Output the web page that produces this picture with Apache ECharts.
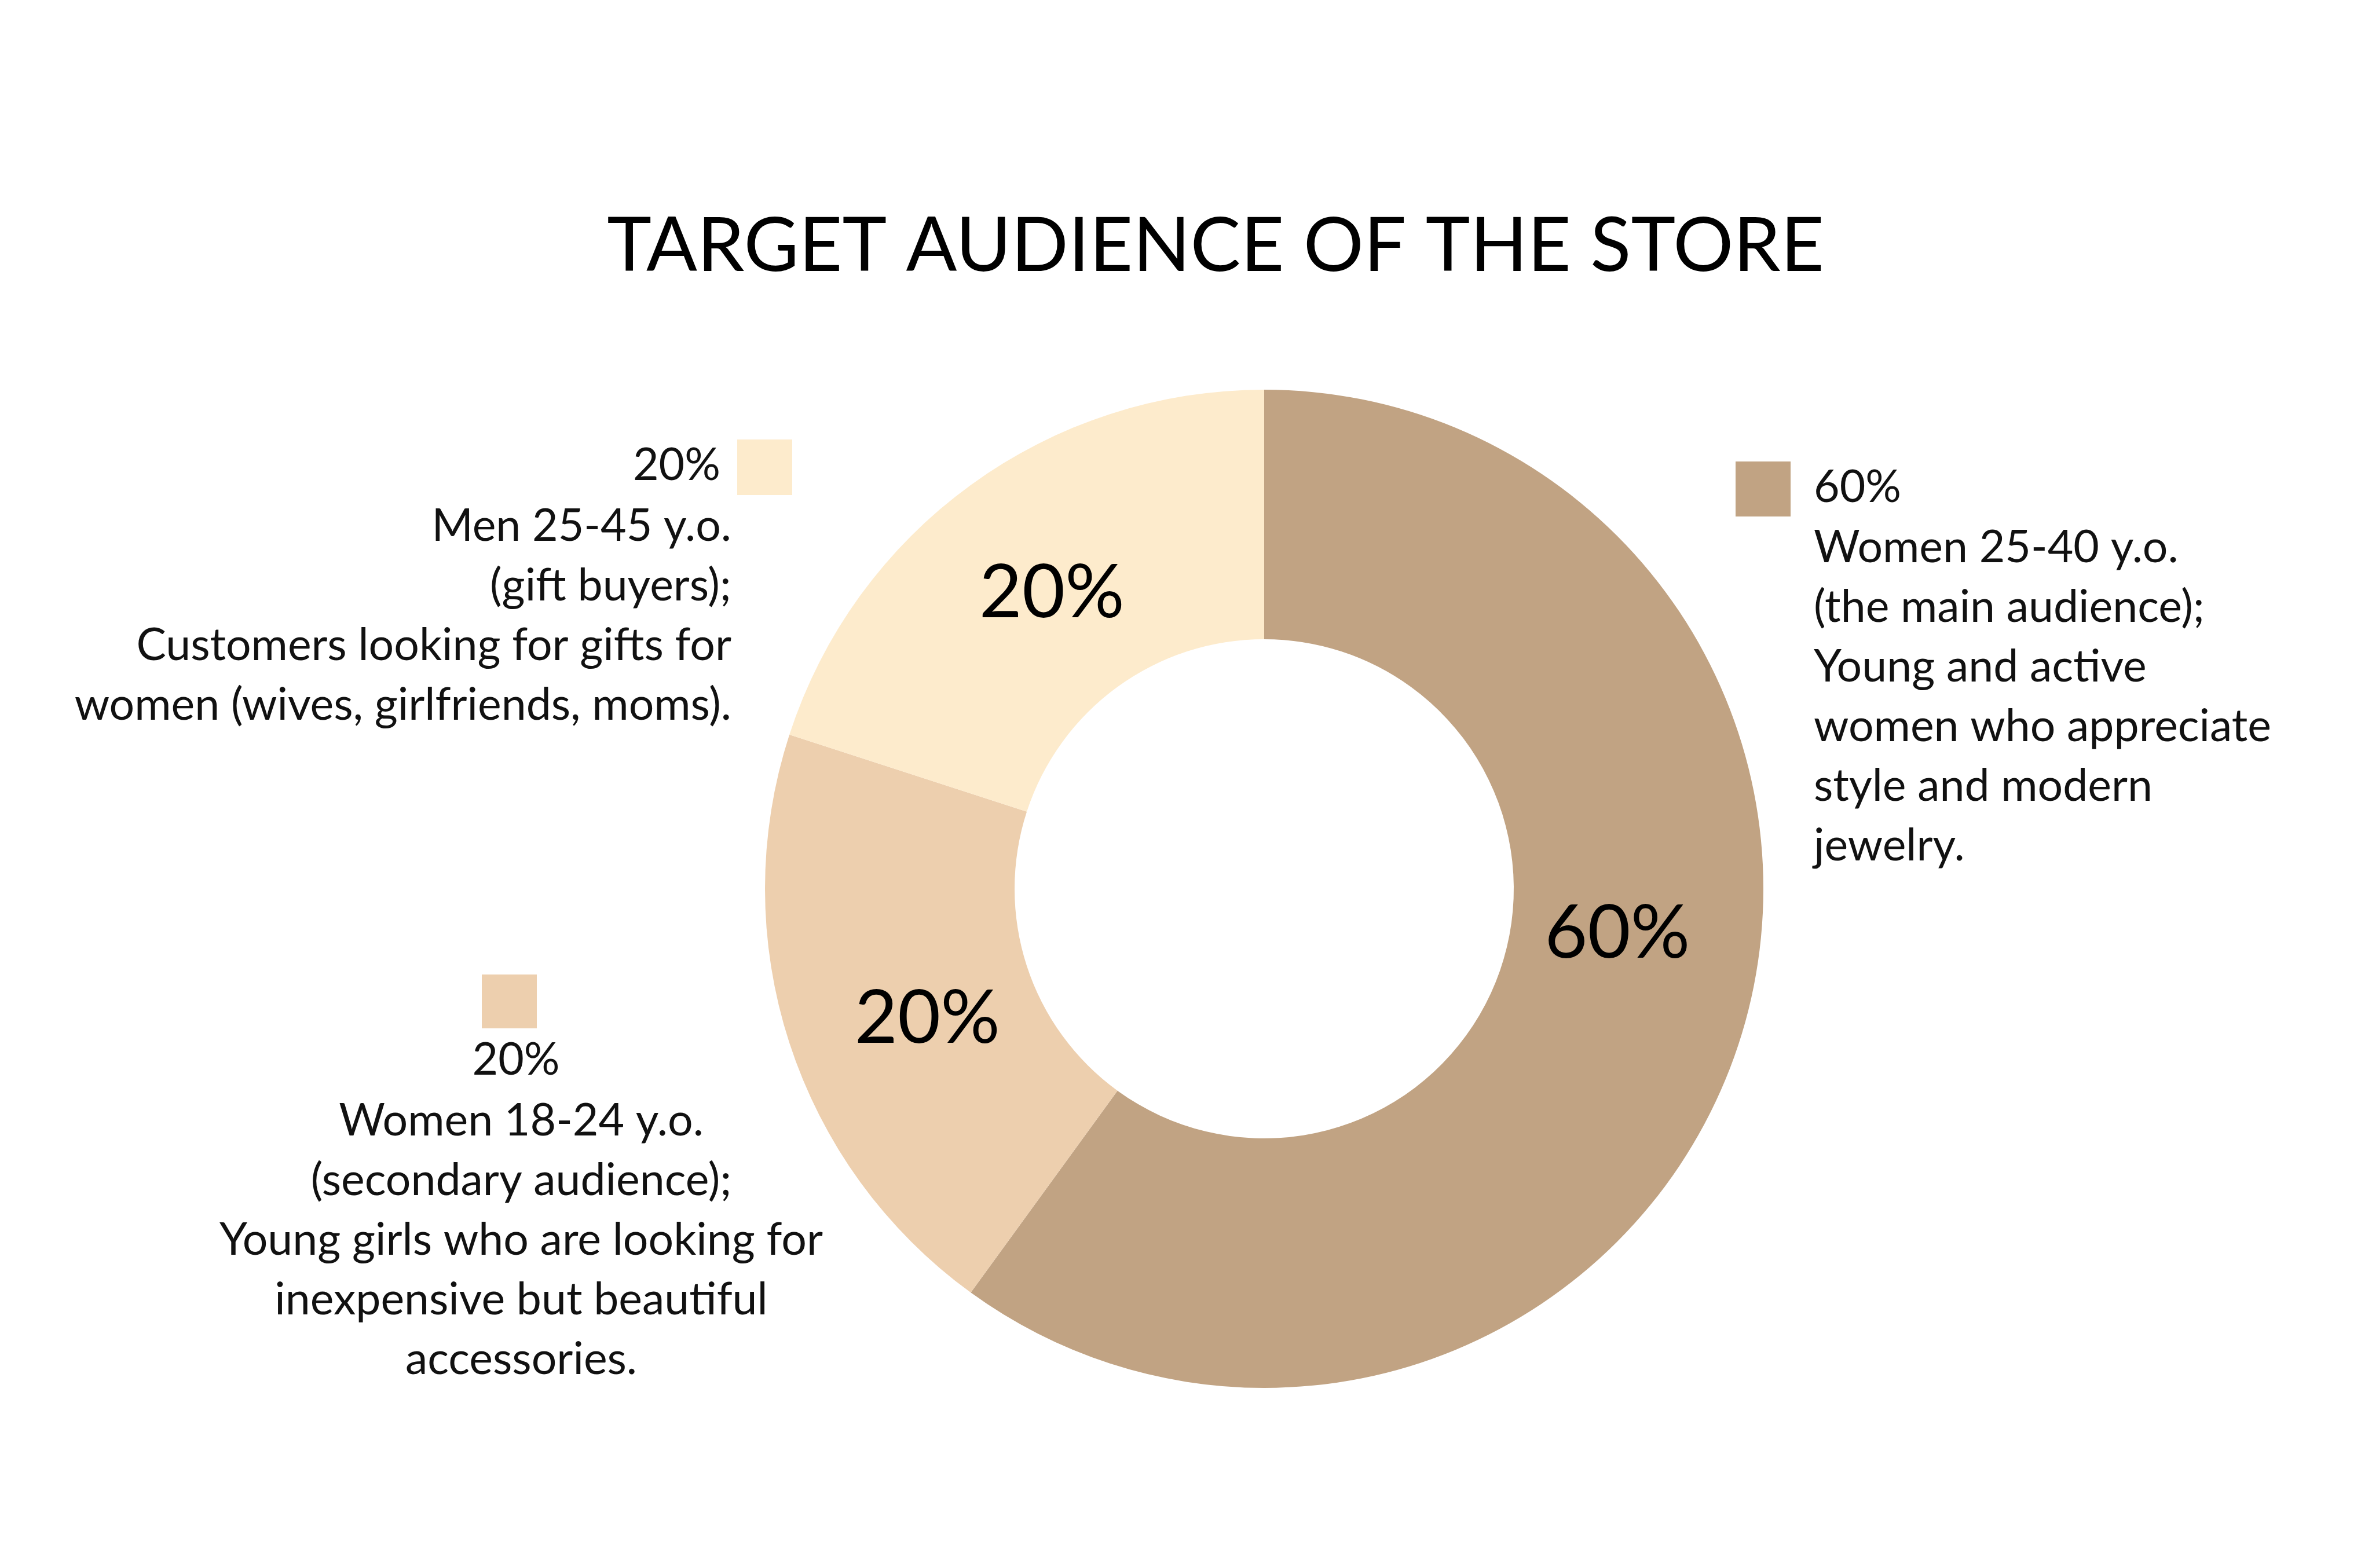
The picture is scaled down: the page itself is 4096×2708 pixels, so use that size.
<!DOCTYPE html>
<html>
<head>
<meta charset="utf-8">
<title>Target audience of the store</title>
<script src="https://cdn.jsdelivr.net/npm/echarts@6/dist/echarts.min.js"></script>
<style>
  html, body { margin: 0; padding: 0; background: #fff; }
  #chart { width: 4096px; height: 2708px; }
</style>
</head>
<body>
<div id="chart"></div>
<script>
// data
var titleText = 'TARGET AUDIENCE OF THE STORE';
var categories = ['Women 25-40 y.o.', 'Women 18-24 y.o.', 'Men 25-45 y.o.'];
var shares = [60, 20, 20];
var colors = ['#C1A383', '#EDCFAE', '#FDEBCC'];
var notes = [
    ['(the main audience);', 'Young and active', 'women who appreciate', 'style and modern', 'jewelry.'],
    ['(secondary audience);', 'Young girls who are looking for', 'inexpensive but beautiful', 'accessories.'],
    ['(gift buyers);', 'Customers looking for gifts for', 'women (wives, girlfriends, moms).']
];

var FONT = 'Lato';
var BODY = 77;
var LH = 103;

var chart = echarts.init(document.getElementById('chart'), null, { renderer: 'canvas' });

// label nudges so the inner percentages sit like the original
var labelOffsets = [[-8, -123], [36, 24], [15, 15]];

var pieData = categories.map(function (name, i) {
    return {
        name: name,
        value: shares[i],
        itemStyle: { color: colors[i] },
        label: { offset: labelOffsets[i] }
    };
});

function txt(x, y, text, align, vAlign) {
    return {
        type: 'text',
        x: x,
        y: y,
        style: {
            text: text,
            fill: '#111',
            font: BODY + 'px ' + FONT,
            align: align,
            verticalAlign: vAlign,
            lineHeight: LH
        }
    };
}
function box(x, y, w, h, c) {
    return { type: 'rect', shape: { x: x, y: y, width: w, height: h }, style: { fill: c } };
}

// legend blocks beside the donut
var graphics = [
    // 60% block (right)
    box(2997, 797, 95, 95, colors[0]),
    txt(3132, 842, shares[0] + '%', 'left', 'middle'),
    txt(3132, 946 - LH / 2, [categories[0]].concat(notes[0]).join('\n'), 'left', 'top'),
    // women 18-24 block (bottom left)
    box(832, 1683, 95, 93, colors[1]),
    txt(891, 1831, shares[1] + '%', 'center', 'middle'),
    txt(900, 1936 - LH / 2, [categories[1]].concat(notes[1]).join('\n'), 'center', 'top'),
    // men block (top left)
    box(1273, 759, 95, 96, colors[2]),
    txt(1244, 804, shares[2] + '%', 'right', 'middle'),
    txt(1263, 909 - LH / 2, [categories[2]].concat(notes[2]).join('\n'), 'right', 'top')
];

chart.setOption({
    backgroundColor: '#ffffff',
    animation: false,
    title: {
        text: titleText,
        left: 2094,
        top: 356,
        textAlign: 'center',
        textStyle: {
            fontFamily: FONT,
            fontWeight: 'normal',
            fontSize: 130,
            color: '#000'
        }
    },
    series: [{
        type: 'pie',
        center: [2183, 1535],
        radius: [431, 862],
        startAngle: 90,
        clockwise: true,
        avoidLabelOverlap: false,
        silent: true,
        label: {
            show: true,
            position: 'inside',
            formatter: '{c}%',
            fontFamily: FONT,
            fontSize: 128,
            color: '#000'
        },
        labelLine: { show: false },
        data: pieData
    }],
    graphic: graphics
});
</script>
</body>
</html>
